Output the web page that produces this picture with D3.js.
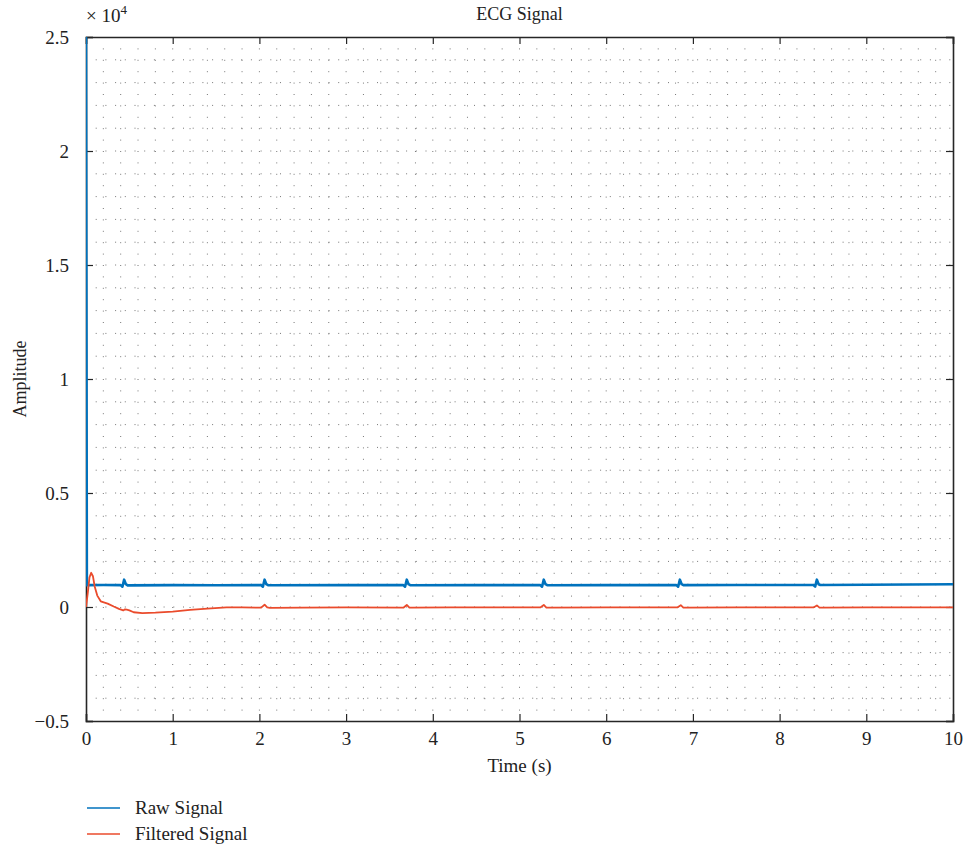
<!DOCTYPE html>
<html>
<head>
<meta charset="utf-8">
<script src="https://cdn.jsdelivr.net/npm/d3@7"></script>
<style>
  html, body { margin: 0; padding: 0; background: #fff; }
  svg { display: block; }
  svg text { font-family: "Liberation Serif", "Times New Roman", Tinos, "DejaVu Serif", serif !important; fill: #222; }
</style>
</head>
<body>
<div id="chart"></div>
<script>
// ---------- data (amplitude values in raw units; axis shows ×10^4) ----------
const rawTime = [0, 0.01, 0.03, 0.2, 0.40, 0.42, 0.44, 0.46, 0.48, 1.0, 1.5,
  2.02, 2.04, 2.06, 2.08, 2.10, 3.0, 3.66, 3.68, 3.70, 3.72, 3.74, 4.5,
  5.24, 5.26, 5.28, 5.30, 5.32, 6.0, 6.81, 6.83, 6.85, 6.87, 6.89, 7.5,
  8.39, 8.41, 8.43, 8.45, 8.47, 9.0, 9.5, 10];
const rawValue = [25000, 960, 960, 965, 960, 890, 1200, 1000, 950, 960, 955,
  960, 890, 1200, 1000, 955, 960, 960, 890, 1200, 1000, 955, 960,
  960, 890, 1200, 1000, 955, 960, 960, 890, 1200, 1000, 960, 965,
  965, 895, 1200, 1000, 965, 975, 985, 1000];

const filtTime = [0, 0.02, 0.04, 0.06, 0.08, 0.10, 0.13, 0.17, 0.25, 0.32, 0.38,
  0.43, 0.45, 0.47, 0.50, 0.55, 0.65, 0.8, 1.0, 1.2, 1.4, 1.62, 1.8,
  2.02, 2.06, 2.09, 2.12, 2.5, 3.0, 3.66, 3.70, 3.73, 3.76, 4.2,
  5.24, 5.28, 5.31, 5.34, 6.0, 6.82, 6.86, 6.89, 6.92, 7.5,
  8.39, 8.43, 8.46, 8.49, 9.0, 10];
const filtValue = [0, 600, 1300, 1500, 1350, 900, 500, 250, 150, 20, -80,
  -150, -100, -120, -150, -230, -270, -250, -200, -130, -70, -20, -20,
  -30, 100, -20, -40, -30, -20, -30, 90, -30, -30, -20,
  -20, 90, -30, -30, -20, -20, 80, -30, -30, -20,
  -20, 70, -30, -30, -20, -20];

const xTicks = [0, 1, 2, 3, 4, 5, 6, 7, 8, 9, 10];
const yTicks = [-5000, 0, 5000, 10000, 15000, 20000, 25000];
const yTickLabels = ["\u22120.5", "0", "0.5", "1", "1.5", "2", "2.5"];
const xMinorTicks = d3.range(0, 10.0001, 0.2);
const yMinorTicks = d3.range(-5000, 25001, 1000);

const seriesNames = ["Raw Signal", "Filtered Signal"];
const seriesColors = ["#0072BD", "#EA4B2C"];

// ---------- layout ----------
const W = 969, H = 845;
const mLeft = 86, mRight = 953, mTop = 37, mBottom = 721;
const FONT = "'Liberation Serif', 'Times New Roman', Tinos, 'DejaVu Serif', serif";

const svg = d3.select("#chart").append("svg").attr("width", W).attr("height", H)
  .attr("font-family", FONT);

const x = d3.scaleLinear().domain([0, 10]).range([mLeft, mRight]);
const y = d3.scaleLinear().domain([-5000, 25000]).range([mBottom, mTop]);

// minor dotted grid
const grid = svg.append("g");
grid.selectAll("line.v").data(xMinorTicks.slice(1, -1)).join("line")
  .attr("class", "v")
  .attr("x1", d => x(d)).attr("x2", d => x(d))
  .attr("y1", mTop).attr("y2", mBottom)
  .attr("stroke", "#777").attr("stroke-width", 1)
  .attr("stroke-dasharray", "1,10.4");
grid.selectAll("line.h").data(yMinorTicks.slice(1, -1)).join("line")
  .attr("class", "h")
  .attr("x1", mLeft).attr("x2", mRight)
  .attr("y1", d => y(d)).attr("y2", d => y(d))
  .attr("stroke", "#777").attr("stroke-width", 1)
  .attr("stroke-dasharray", "1,8.7");

// axes with inward ticks
const tickLen = 7;
const axB = svg.append("g").attr("transform", `translate(0,${mBottom})`)
  .call(d3.axisBottom(x).tickValues(xTicks).tickSize(-tickLen).tickPadding(tickLen + 8).tickFormat(d3.format("d")));
const axT = svg.append("g").attr("transform", `translate(0,${mTop})`)
  .call(d3.axisTop(x).tickValues(xTicks).tickSize(-tickLen).tickFormat(""));
const axL = svg.append("g").attr("transform", `translate(${mLeft},0)`)
  .call(d3.axisLeft(y).tickValues(yTicks).tickSize(-tickLen).tickPadding(tickLen + 10)
    .tickFormat((d, i) => yTickLabels[i]));
const axR = svg.append("g").attr("transform", `translate(${mRight},0)`)
  .call(d3.axisRight(y).tickValues(yTicks).tickSize(-tickLen).tickFormat(""));
[axB, axT, axL, axR].forEach(a => {
  a.attr("font-family", FONT);
  a.select(".domain").attr("stroke", "#262626").attr("stroke-width", 1.6);
  a.selectAll(".tick line").attr("stroke", "#262626").attr("stroke-width", 1.2);
  a.selectAll(".tick text").attr("font-size", 19).attr("fill", "#222");
});
axB.selectAll(".tick text").attr("dy", "0.45em");

// clip
svg.append("clipPath").attr("id", "clip").append("rect")
  .attr("x", mLeft).attr("y", mTop).attr("width", mRight - mLeft).attr("height", mBottom - mTop);

const line = d3.line().x(d => x(d[0])).y(d => y(d[1]));
const rawData = rawTime.map((t, i) => [t, rawValue[i]]);
const filtData = filtTime.map((t, i) => [t, filtValue[i]]);

const plot = svg.append("g").attr("clip-path", "url(#clip)");
plot.append("path").datum(rawData).attr("d", line)
  .attr("fill", "none").attr("stroke", seriesColors[0]).attr("stroke-width", 2.6)
  .attr("stroke-linejoin", "round");
plot.append("path").datum(filtData).attr("d", line)
  .attr("fill", "none").attr("stroke", seriesColors[1]).attr("stroke-width", 1.8)
  .attr("stroke-linejoin", "round");

// title and labels
svg.append("text").attr("x", (mLeft + mRight) / 2).attr("y", 20)
  .attr("text-anchor", "middle").attr("font-size", 18).text("ECG Signal");
const expo = svg.append("text").attr("x", 86).attr("y", 22).attr("font-size", 19);
expo.append("tspan").text("\u00D7 10");
expo.append("tspan").attr("dy", -8).attr("font-size", 13).text("4");

svg.append("text").attr("transform", `translate(26,${(mTop + mBottom) / 2}) rotate(-90)`)
  .attr("text-anchor", "middle").attr("font-size", 18).text("Amplitude");
svg.append("text").attr("x", (mLeft + mRight) / 2).attr("y", 772)
  .attr("text-anchor", "middle").attr("font-size", 19).text("Time (s)");

// legend
const leg = svg.append("g");
seriesNames.forEach((name, i) => {
  const ly = 808 + i * 26;
  leg.append("line").attr("x1", 87).attr("x2", 120).attr("y1", ly).attr("y2", ly)
    .attr("stroke", seriesColors[i]).attr("stroke-width", 1.5);
  leg.append("text").attr("x", 135).attr("y", ly + 6).attr("font-size", 19).text(name);
});
</script>
</body>
</html>
